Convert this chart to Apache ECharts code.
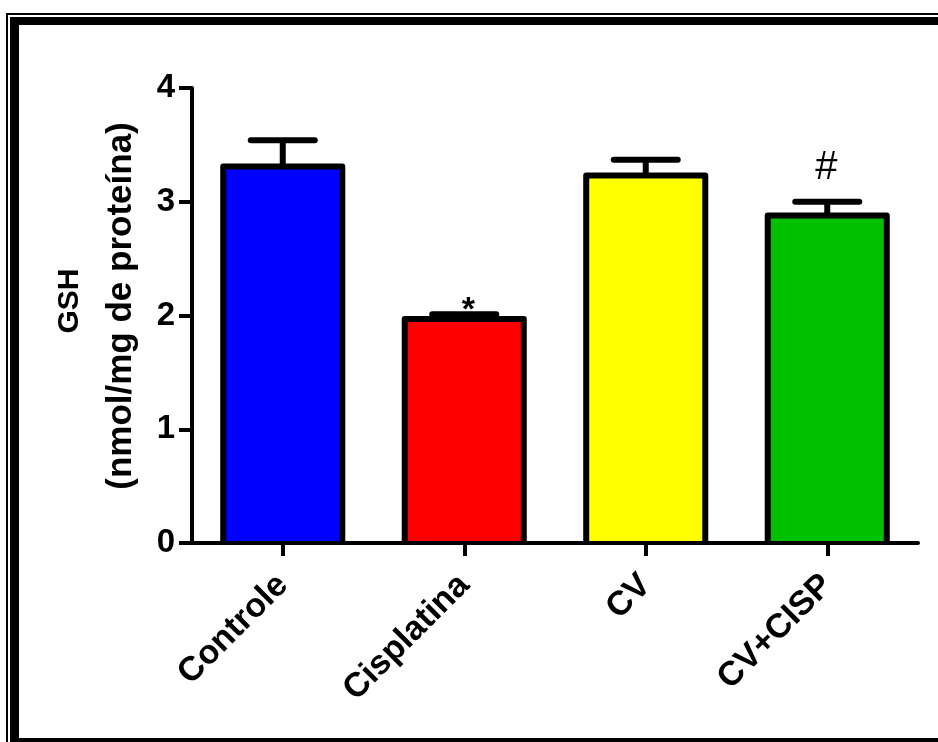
<!DOCTYPE html>
<html>
<head>
<meta charset="utf-8">
<script src="https://cdn.jsdelivr.net/npm/echarts@6/dist/echarts.min.js"></script>
<style>
html,body{margin:0;padding:0;background:#fff;}
#chart{width:938px;height:742px;}
</style>
</head>
<body>
<div id="chart"></div>
<script>
// ---- data ----
const categories = ['Controle', 'Cisplatina', 'CV', 'CV+CISP'];
const means = [3.31, 1.97, 3.23, 2.88];
const sems = [0.23, 0.04, 0.14, 0.12];
const marks = ['', '*', '', '#'];
const barColors = ['#0000FF', '#FF0000', '#FFFF00', '#00C000'];
const yTicks = [0, 1, 2, 3, 4];
const yTitle = 'GSH';
const ySubtitle = '(nmol/mg de proteína)';

const FONT = 'Liberation Sans';
const chart = echarts.init(document.getElementById('chart'));

const barData = means.map((v, i) => [i, v]);
const errData = means.map((v, i) => [i, v, sems[i]]);

const option = {
  backgroundColor: '#ffffff',
  animation: false,
  grid: { left: 192, right: 20, top: 88, bottom: 199, containLabel: false },
  xAxis: {
    type: 'category',
    data: categories,
    z: 10,
    axisLine: { lineStyle: { color: '#000', width: 4 } },
    axisTick: { show: true, alignWithLabel: true, length: 13, lineStyle: { color: '#000', width: 4 } },
    axisLabel: {
      rotate: 45, margin: 37, color: '#000',
      fontFamily: FONT, fontWeight: 'bold', fontSize: 34
    }
  },
  yAxis: {
    type: 'value',
    min: yTicks[0], max: yTicks[yTicks.length - 1], interval: 1,
    z: 10,
    splitLine: { show: false },
    axisLine: { show: true, lineStyle: { color: '#000', width: 4 } },
    axisTick: { show: true, length: 13, lineStyle: { color: '#000', width: 4 } },
    axisLabel: {
      margin: 17, color: '#000',
      fontFamily: FONT, fontWeight: 'bold', fontSize: 33
    }
  },
  series: [
    {
      type: 'custom',
      data: barData,
      z: 2,
      renderItem: function (params, api) {
        const i = api.value(0);
        const m = api.value(1);
        const top = api.coord([i, m]);
        const base = api.coord([i, 0]);
        const w = api.size([1, 0])[0] * 0.656;
        const x0 = top[0] - w / 2, x1 = top[0] + w / 2;
        return {
          type: 'group',
          children: [
            { type: 'rect', shape: { x: x0, y: top[1], width: w, height: base[1] - top[1] },
              style: { fill: barColors[params.dataIndex] } },
            { type: 'polyline', shape: { points: [[x0, base[1]], [x0, top[1]], [x1, top[1]], [x1, base[1]]] },
              style: { stroke: '#000', lineWidth: 6, lineJoin: 'round', fill: null } }
          ]
        };
      }
    },
    {
      type: 'custom',
      data: errData,
      z: 3,
      renderItem: function (params, api) {
        const i = api.value(0);
        const m = api.value(1);
        const s = api.value(2);
        const mark = marks[params.dataIndex];
        const base = api.coord([i, m]);
        const top = api.coord([i, m + s]);
        const half = 32;
        const children = [
          { type: 'line', shape: { x1: base[0], y1: base[1], x2: top[0], y2: top[1] }, style: { stroke: '#000', lineWidth: 6 } },
          { type: 'line', shape: { x1: top[0] - half, y1: top[1], x2: top[0] + half, y2: top[1] }, style: { stroke: '#000', lineWidth: 6, lineCap: 'round' } }
        ];
        if (mark) {
          const isStar = mark === '*';
          children.push({
            type: 'text',
            style: {
              text: mark,
              x: top[0] + (isStar ? 4 : -1),
              y: top[1] + (isStar ? -4 : -34),
              align: 'center', verticalAlign: 'middle',
              fill: '#000',
              fontFamily: FONT,
              fontWeight: isStar ? 'bold' : 'normal',
              fontSize: isStar ? 34 : 40
            }
          });
        }
        return { type: 'group', children: children };
      }
    }
  ],
  graphic: [
    // frame
    { type: 'rect', shape: { x: 6, y: 13, width: 2, height: 742 }, style: { fill: '#000' } },
    { type: 'rect', shape: { x: 6, y: 13, width: 940, height: 2 }, style: { fill: '#000' } },
    { type: 'rect', shape: { x: 10, y: 17, width: 9, height: 742 }, style: { fill: '#000' } },
    { type: 'rect', shape: { x: 10, y: 17, width: 940, height: 8 }, style: { fill: '#000' } },
    { type: 'rect', shape: { x: 10, y: 738, width: 940, height: 8 }, style: { fill: '#000' } },
    // y-axis title
    {
      type: 'text', x: 70, y: 301, rotation: Math.PI / 2,
      style: { text: yTitle, align: 'center', verticalAlign: 'middle', fill: '#000',
               fontFamily: FONT, fontWeight: 'bold', fontSize: 30 }
    },
    {
      type: 'text', x: 121, y: 306, rotation: Math.PI / 2,
      style: { text: ySubtitle, align: 'center', verticalAlign: 'middle', fill: '#000',
               fontFamily: FONT, fontWeight: 'bold', fontSize: 35 }
    }
  ]
};
chart.setOption(option);
</script>
</body>
</html>
